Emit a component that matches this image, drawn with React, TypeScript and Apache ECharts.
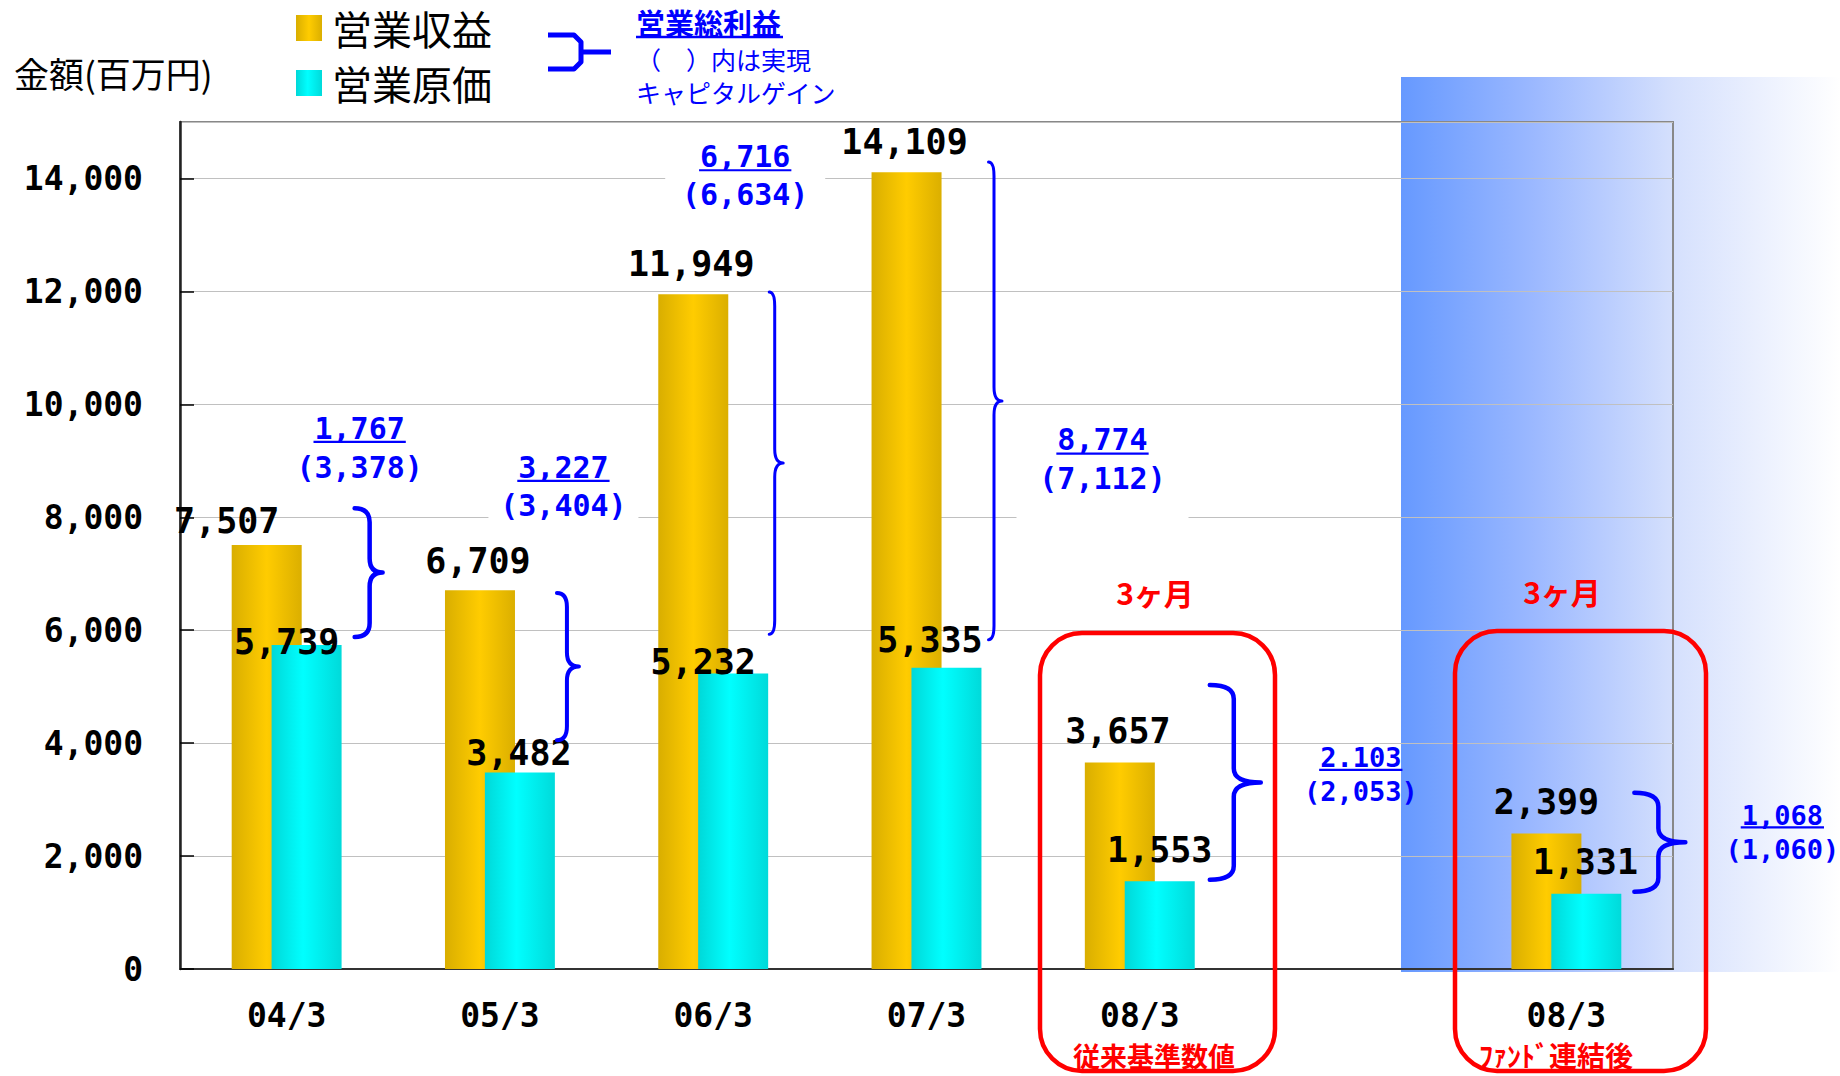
import React, { useEffect, useRef } from "react";
import * as echarts from "echarts";

// ---- data ----
const categories = ["04/3", "05/3", "06/3", "07/3", "08/3", "", "08/3"];
const revenue = [7507, 6709, 11949, 14109, 3657, null, 2399];
const cost = [5739, 3482, 5232, 5335, 1553, null, 1331];
const seriesNames = ["営業収益", "営業原価"];

// gross profit annotations (brace range in value space)
const braceCategory = [0, 1, 2, 3, 4, 6];
const braceTopValue = [8160, 6660, 11990, 14290, 5030, 3120];
const braceBottomValue = [5880, 4050, 5930, 5830, 1580, 1370];
const grossProfit = ["1,767", "3,227", "6,716", "8,774", "2.103", "1,068"];
const realizedGain = ["(3,378)", "(3,404)", "(6,634)", "(7,112)", "(2,053)", "(1,060)"];
const noteAnchorValue = [9580, 8890, 14390, 9370, 3745, 2727];

// ---- layout / style (px) ----
const revenueLabelOffset = [[-40, -7], [-2, -12], [-2, -13], [-2, -13], [-2, -14], null, [0, -14]];
const costLabelOffset = [[-20, 15], [-1, -1.5], [-30, 6], [-16.5, -10], [0, -14], null, [-1, -14.5]];
const braceDx = [68, 57, 56, 62, 70, 68];
const braceStem = [15, 10, 5.5, 5.5, 24, 24];
const braceReach = [28, 22, 14, 13.5, 51, 51];
const braceWidth = [4.5, 4, 3, 3, 4.5, 4.5];
const noteDx = [73, 63.5, 32, 176, 221, 216];
const noteFont = [30, 30, 30, 30, 27, 27];
const noteGap = [39, 38, 38, 39, 34, 34];
const noteBoxW = [0, 150, 160, 172, 0, 0];
const noteBoxBelow = [0, 62, 60, 90, 0, 0];

const MONO = "'DejaVu Sans Mono', monospace";
const CJK = "'Noto Sans CJK JP', sans-serif";
const BLUE = "#0000ff";
const RED = "#ff0000";

const txt = (text: string, x: number, y: number, size: number, color: string, weight: string, family: string, align = "center", z = 50) => ({
  type: "text",
  z,
  x,
  y,
  style: {
    text,
    fill: color,
    fontSize: size,
    lineHeight: size,
    fontWeight: weight,
    fontFamily: family,
    align,
    verticalAlign: "middle",
    textAlign: align,
    textVerticalAlign: "middle",
  },
});

export default function App() {
  const ref = useRef<HTMLDivElement>(null);

  useEffect(() => {
    if (!ref.current) return;
    const chart = echarts.init(ref.current, null, { renderer: "svg" });

    const gold = new echarts.graphic.LinearGradient(0, 0, 1, 0, [
      { offset: 0, color: "#d9ae00" },
      { offset: 0.5, color: "#ffcc00" },
      { offset: 1, color: "#dbaf00" },
    ]);
    const cyan = new echarts.graphic.LinearGradient(0, 0, 1, 0, [
      { offset: 0, color: "#00d8d8" },
      { offset: 0.45, color: "#00ffff" },
      { offset: 1, color: "#00dada" },
    ]);

    const labelBase = {
      show: true,
      position: "top",
      distance: 0,
      fontFamily: MONO,
      fontSize: 35,
      lineHeight: 35,
      fontWeight: "bold",
      color: "#000",
      formatter: (p: any) => Number(p.value).toLocaleString("en-US"),
    };

    const mk = (vals: (number | null)[], offs: any[]) =>
      vals.map((v, i) =>
        v == null ? null : { value: v, label: { offset: offs[i] || [0, 0] } }
      );

    const braceData = braceCategory.map((c, i) => [c, braceTopValue[i], braceBottomValue[i]]);

    const option: any = {
      animation: false,
      backgroundColor: "#ffffff",
      grid: {
        left: 180,
        top: 122,
        right: 167,
        bottom: 107,
        show: true,
        borderColor: "#888888",
        borderWidth: 2,
        backgroundColor: "transparent",
      },
      legend: {
        data: seriesNames,
        orient: "vertical",
        left: 291,
        top: 3,
        itemWidth: 26,
        itemHeight: 26,
        itemGap: 15,
        selectedMode: false,
        icon: "rect",
        textStyle: {
          fontFamily: CJK,
          fontSize: 40,
          lineHeight: 40,
          color: "#000",
          padding: [0, 0, 0, 5],
        },
      },
      xAxis: {
        type: "category",
        data: categories,
        axisLine: { show: true, lineStyle: { color: "#333", width: 2 } },
        axisTick: { show: false },
        axisLabel: {
          interval: 0,
          margin: 30,
          fontFamily: MONO,
          fontSize: 33,
          lineHeight: 33,
          fontWeight: "bold",
          color: "#000",
        },
        splitLine: { show: false },
      },
      yAxis: {
        type: "value",
        min: 0,
        max: 15000,
        interval: 2000,
        axisLine: { show: true, lineStyle: { color: "#222", width: 2.5 } },
        axisTick: { show: true, inside: true, length: 14, lineStyle: { color: "#000", width: 1.5 } },
        axisLabel: {
          showMaxLabel: false,
          margin: 37,
          fontFamily: MONO,
          fontSize: 33,
          fontWeight: "bold",
          color: "#000",
          formatter: (v: number) => v.toLocaleString("en-US"),
        },
        splitLine: { show: true, lineStyle: { color: "#c0c0c0", width: 1.2 } },
      },
      series: [
        {
          name: seriesNames[0],
          type: "bar",
          data: mk(revenue, revenueLabelOffset),
          barWidth: 70,
          barGap: "-43%",
          itemStyle: { color: gold },
          label: labelBase,
          z: 2,
        },
        {
          name: seriesNames[1],
          type: "bar",
          data: mk(cost, costLabelOffset),
          barWidth: 70,
          barGap: "-43%",
          itemStyle: { color: cyan },
          label: labelBase,
          z: 3,
        },
        {
          type: "custom",
          name: "notes",
          silent: true,
          z: 6,
          encode: { x: 0, y: [1, 2] },
          data: braceData,
          renderItem: (params: any, api: any) => {
            const i = params.dataIndex;
            const cat = api.value(0);
            const top = api.coord([cat, api.value(1)]);
            const bot = api.coord([cat, api.value(2)]);
            const anchor = api.coord([cat, noteAnchorValue[i]]);
            const x0 = top[0] + braceDx[i];
            const xv = x0 + braceStem[i];
            const xt = x0 + braceReach[i];
            const yT = top[1];
            const yB = bot[1];
            const yM = (yT + yB) / 2;
            const k = Math.min(14, (yB - yT) / 4);
            const d = `M${x0},${yT} Q${xv},${yT} ${xv},${yT + k} L${xv},${yM - k} Q${xv},${yM} ${xt},${yM} Q${xv},${yM} ${xv},${yM + k} L${xv},${yB - k} Q${xv},${yB} ${x0},${yB}`;
            const nx = top[0] + noteDx[i];
            const ny = anchor[1];
            const fs = noteFont[i];
            const w1 = grossProfit[i].length * fs * 0.602;
            const children: any[] = [];
            if (noteBoxW[i]) {
              children.push({
                type: "rect",
                shape: { x: nx - noteBoxW[i] / 2, y: ny - 22, width: noteBoxW[i], height: noteBoxBelow[i] + 22 },
                style: { fill: "#ffffff" },
              });
            }
            children.push({
              type: "path",
              shape: { pathData: d },
              style: { stroke: BLUE, lineWidth: braceWidth[i], fill: "none", lineCap: "round", lineJoin: "round" },
            });
            children.push(txt(grossProfit[i], nx, ny, fs, BLUE, "bold", MONO));
            children.push({
              type: "line",
              shape: { x1: nx - w1 / 2 - 1, y1: ny + fs * 0.46, x2: nx + w1 / 2 + 1, y2: ny + fs * 0.46 },
              style: { stroke: BLUE, lineWidth: 2.2 },
            });
            children.push(txt(realizedGain[i], nx, ny + noteGap[i], fs, BLUE, "bold", MONO));
            return { type: "group", children };
          },
        },
      ],
      graphic: [
        {
          type: "rect",
          z: -1,
          silent: true,
          shape: { x: 1401, y: 77, width: 439, height: 895 },
          style: {
            fill: new echarts.graphic.LinearGradient(0, 0, 1, 0, [
              { offset: 0, color: "#6699ff" },
              { offset: 0.3, color: "#9bb8ff" },
              { offset: 0.62, color: "#d5e0fd" },
              { offset: 1, color: "#ffffff" },
            ]),
          },
        },
        txt("金額(百万円)", 14, 72, 35, "#000", "normal", CJK, "left"),
        {
          type: "polyline",
          z: 50,
          shape: { points: [[548, 35], [574, 35], [581, 42], [581, 62], [574, 69], [548, 69]] },
          style: { stroke: BLUE, lineWidth: 5, fill: "none", lineJoin: "round" },
        },
        {
          type: "line",
          z: 50,
          shape: { x1: 581, y1: 52, x2: 611, y2: 52 },
          style: { stroke: BLUE, lineWidth: 5 },
        },
        txt("営業総利益", 636, 22, 29, BLUE, "bold", CJK, "left"),
        {
          type: "line",
          z: 50,
          shape: { x1: 636, y1: 37, x2: 783, y2: 37 },
          style: { stroke: BLUE, lineWidth: 2.5 },
        },
        txt("（　）内は実現", 636, 59, 25, BLUE, "normal", CJK, "left"),
        txt("キャピタルゲイン", 636, 92, 25, BLUE, "normal", CJK, "left"),
        {
          type: "rect",
          z: 100,
          shape: { x: 1040, y: 633, width: 235, height: 438, r: 42 },
          style: { stroke: RED, lineWidth: 4.5, fill: "transparent" },
        },
        {
          type: "rect",
          z: 100,
          shape: { x: 1455, y: 631, width: 251, height: 440, r: 42 },
          style: { stroke: RED, lineWidth: 4.5, fill: "transparent" },
        },
        txt("3ヶ月", 1155, 592, 30, RED, "bold", CJK, "center", 100),
        txt("3ヶ月", 1562, 591, 30, RED, "bold", CJK, "center", 100),
        txt("従来基準数値", 1154, 1055, 27, RED, "bold", CJK, "center", 100),
        txt("ﾌｧﾝﾄﾞ連結後", 1556, 1055, 28, RED, "bold", CJK, "center", 100),
      ],
    };

    chart.setOption(option);
    return () => chart.dispose();
  }, []);

  return (
    <div
      ref={ref}
      style={{ position: "fixed", left: 0, top: 0, width: 1840, height: 1076, background: "#fff" }}
    />
  );
}
